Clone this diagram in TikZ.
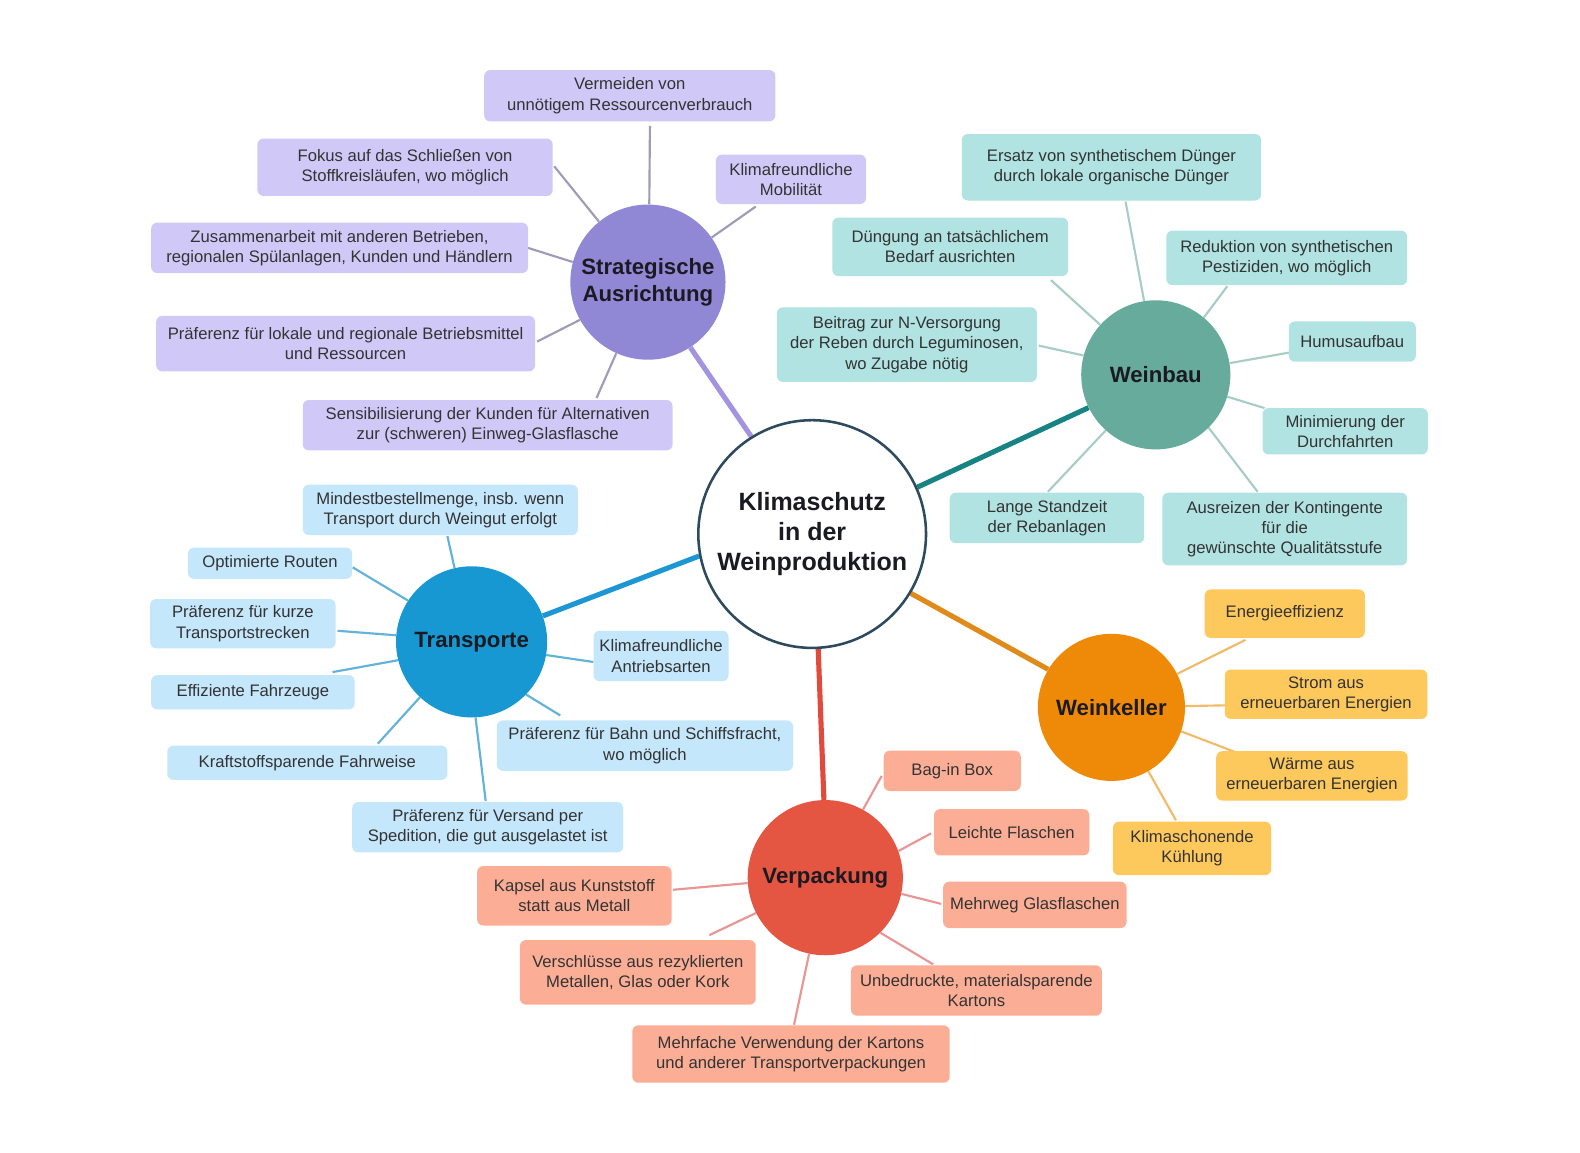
\documentclass[tikz,border=0pt]{standalone}
\usepackage{fontspec}
\setmainfont{Liberation Sans}
\usetikzlibrary{backgrounds}
\definecolor{txt}{HTML}{333333}
\definecolor{hubtxt}{HTML}{1A1A22}
\definecolor{ring}{HTML}{2D4A5E}
\definecolor{Phub}{HTML}{9188D5}\definecolor{Pleaf}{HTML}{D0C9F7}\definecolor{Pline}{HTML}{A09BB9}\definecolor{Pmain}{HTML}{A393E0}
\definecolor{Thub}{HTML}{66AB9B}\definecolor{Tleaf}{HTML}{B0E3E2}\definecolor{Tline}{HTML}{A8CCC6}\definecolor{Tmain}{HTML}{178383}
\definecolor{Bhub}{HTML}{1898D3}\definecolor{Bleaf}{HTML}{C5E7FB}\definecolor{Bline}{HTML}{62B3D9}\definecolor{Bmain}{HTML}{1D97D3}
\definecolor{Ohub}{HTML}{EF8A08}\definecolor{Oleaf}{HTML}{FDC85C}\definecolor{Oline}{HTML}{F2BB6A}\definecolor{Omain}{HTML}{E08A1A}
\definecolor{Rhub}{HTML}{E45641}\definecolor{Rleaf}{HTML}{FBAE95}\definecolor{Rline}{HTML}{E99593}\definecolor{Rmain}{HTML}{E04B3E}
\newcommand{\leaffont}{\fontsize{12.4}{15}\selectfont}
\newcommand{\hubfont}{\fontsize{16.5}{20.3}\selectfont\bfseries}
\newcommand{\corefont}{\fontsize{18.6}{22.5}\selectfont\bfseries}
\begin{document}
\begin{tikzpicture}[x=0.75pt,y=-0.75pt,
  leaf/.style={rounded corners=4.5pt, inner sep=0pt, align=center, font=\leaffont, text=txt},
  bx/.style 2 args={minimum width=#1*0.75pt, minimum height=#2*0.75pt},
  hub/.style={circle, inner sep=0pt, align=center, font=\hubfont, text=hubtxt},
  ln/.style={line width=1.6pt},
  mainln/.style={line width=3.8pt}]
\useasboundingbox (0,0) rectangle (1568,1144);

% center
\node[circle, draw=ring, line width=1.9pt, fill=white, minimum size=226*0.75pt, inner sep=0pt, align=center, font=\corefont, text=hubtxt] (C) at (806,530) {Klimaschutz\\in der\\Weinproduktion};

% hubs
\node[hub, fill=Phub, minimum size=154*0.75pt] (SA) at (643,280) {Strategische\\Ausrichtung};
\node[hub, fill=Thub, minimum size=148*0.75pt] (WB) at (1147,372) {Weinbau};
\node[hub, fill=Bhub, minimum size=150*0.75pt] (TR) at (468,637) {Transporte};
\node[hub, fill=Ohub, minimum size=146*0.75pt] (WK) at (1103,702) {Weinkeller};
\node[hub, fill=Rhub, minimum size=154*0.75pt] (VP) at (819,871) {Verpackung};

% purple leaves
\node[leaf, fill=Pleaf, bx={289}{51}] (P1) at (625,95) {Vermeiden von\\unnötigem Ressourcenverbrauch};
\node[leaf, fill=Pleaf, bx={293}{57}] (P2) at (402,166) {Fokus auf das Schließen von\\Stoffkreisläufen, wo möglich};
\node[leaf, fill=Pleaf, bx={149}{49}] (P3) at (785,178) {Klimafreundliche\\Mobilität};
\node[leaf, fill=Pleaf, bx={374}{50}] (P4) at (337,246) {Zusammenarbeit mit anderen Betrieben,\\regionalen Spülanlagen, Kunden und Händlern};
\node[leaf, fill=Pleaf, bx={376}{55}] (P5) at (343,341) {Präferenz für lokale und regionale Betriebsmittel\\und Ressourcen};
\node[leaf, fill=Pleaf, bx={367}{50}] (P6) at (484,422) {Sensibilisierung der Kunden für Alternativen\\zur (schweren) Einweg-Glasflasche};

% teal leaves
\node[leaf, fill=Tleaf, bx={297}{66}] (T1) at (1103,166) {Ersatz von synthetischem Dünger\\durch lokale organische Dünger};
\node[leaf, fill=Tleaf, bx={234}{58}] (T2) at (943,245) {Düngung an tatsächlichem\\Bedarf ausrichten};
\node[leaf, fill=Tleaf, bx={239}{54}] (T3) at (1277,256) {Reduktion von synthetischen\\Pestiziden, wo möglich};
\node[leaf, fill=Tleaf, bx={258}{74}] (T4) at (900,342) {Beitrag zur N-Versorgung\\der Reben durch Leguminosen,\\wo Zugabe nötig};
\node[leaf, fill=Tleaf, bx={126}{40}] (T5) at (1342,339) {Humusaufbau};
\node[leaf, fill=Tleaf, bx={164}{46}] (T6) at (1335,428) {Minimierung der\\Durchfahrten};
\node[leaf, fill=Tleaf, bx={193}{50}] (T7) at (1039,514) {Lange Standzeit\\der Rebanlagen};
\node[leaf, fill=Tleaf, bx={243}{72}] (T8) at (1275,525) {Ausreizen der Kontingente\\für die\\gewünschte Qualitätsstufe};

% blue leaves
\node[leaf, fill=Bleaf, bx={273}{50}] (B1) at (437,506) {Mindestbestellmenge, insb. wenn\\Transport durch Weingut erfolgt};
\node[leaf, fill=Bleaf, bx={163}{31}] (B2) at (268,559) {Optimierte Routen};
\node[leaf, fill=Bleaf, bx={184}{49}] (B3) at (241,619) {Präferenz für kurze\\Transportstrecken};
\node[leaf, fill=Bleaf, bx={202}{34}] (B4) at (251,687) {Effiziente Fahrzeuge};
\node[leaf, fill=Bleaf, bx={134}{50}] (B5) at (656,651) {Klimafreundliche\\Antriebsarten};
\node[leaf, fill=Bleaf, bx={278}{34}] (B6) at (305,757) {Kraftstoffsparende Fahrweise};
\node[leaf, fill=Bleaf, bx={294}{50}] (B7) at (640,740) {Präferenz für Bahn und Schiffsfracht,\\wo möglich};
\node[leaf, fill=Bleaf, bx={269}{50}] (B8) at (484,821) {Präferenz für Versand per\\Spedition, die gut ausgelastet ist};

% orange leaves
\node[leaf, fill=Oleaf, bx={159}{48}] (O1) at (1275,609) {Energieeffizienz};
\node[leaf, fill=Oleaf, bx={201}{49}] (O2) at (1316,689) {Strom aus\\erneuerbaren Energien};
\node[leaf, fill=Oleaf, bx={190}{49}] (O3) at (1302,770) {Wärme aus\\erneuerbaren Energien};
\node[leaf, fill=Oleaf, bx={157}{53}] (O4) at (1183,842) {Klimaschonende\\Kühlung};

% red leaves
\node[leaf, fill=Rleaf, bx={136}{40}] (R1) at (945,765) {Bag-in Box};
\node[leaf, fill=Rleaf, bx={154}{46}] (R2) at (1004,826) {Leichte Flaschen};
\node[leaf, fill=Rleaf, bx={193}{59}] (R3) at (570,889) {Kapsel aus Kunststoff\\statt aus Metall};
\node[leaf, fill=Rleaf, bx={182}{46}] (R4) at (1027,898) {Mehrweg Glasflaschen};
\node[leaf, fill=Rleaf, bx={234}{64}] (R5) at (633,965) {Verschlüsse aus rezyklierten\\Metallen, Glas oder Kork};
\node[leaf, fill=Rleaf, bx={249}{50}] (R6) at (969,983) {Unbedruckte, materialsparende\\Kartons};
\node[leaf, fill=Rleaf, bx={315}{57}] (R7) at (785,1046) {Mehrfache Verwendung der Kartons\\und anderer Transportverpackungen};

\begin{scope}[on background layer]
\fill[white] (0,0) rectangle (1568,1144);
% main connectors
\draw[mainln, Pmain] (C.122) -- (SA.303);
\draw[mainln, Tmain] (C.24) -- (WB.206);
\draw[mainln, Bmain] (C.191.7) -- (TR.20.6);
\draw[mainln, Omain] (C.-31) -- (WK.149.6);
\draw[mainln, Rmain] (C.-87.5) -- (VP.91.5);
% purple
\draw[ln, Pline] (SA.89) -- ([shift={(20,30)}]P1.center);
\draw[ln, Pline] (SA.129) -- ([shift={(148,-1)}]P2.center);
\draw[ln, Pline] (SA.35) -- ([shift={(-35,27)}]P3.center);
\draw[ln, Pline] (SA.165) -- ([shift={(187,0)}]P4.center);
\draw[ln, Pline] (SA.209) -- ([shift={(190,-2)}]P5.center);
\draw[ln, Pline] (SA.246) -- ([shift={(108,-27)}]P6.center);
% teal
\draw[ln, Tline] (WB.99.5) -- ([shift={(14,34)}]T1.center);
\draw[ln, Tline] (WB.138) -- ([shift={(100,33)}]T2.center);
\draw[ln, Tline] (WB.50.4) -- ([shift={(-59,28)}]T3.center);
\draw[ln, Tline] (WB.165) -- ([shift={(131,1)}]T4.center);
\draw[ln, Tline] (WB.9) -- ([shift={(-63,11)}]T5.center);
\draw[ln, Tline] (WB.-17.5) -- ([shift={(-80,-23)}]T6.center);
\draw[ln, Tline] (WB.228.6) -- ([shift={(1,-26)}]T7.center);
\draw[ln, Tline] (WB.-45) -- ([shift={(-27,-37)}]T8.center);
% blue
\draw[ln, Bline] (TR.103) -- ([shift={(7,26)}]B1.center);
\draw[ln, Bline] (TR.147) -- ([shift={(82,4)}]B2.center);
\draw[ln, Bline] (TR.175) -- ([shift={(94,7)}]B3.center);
\draw[ln, Bline] (TR.194.6) -- ([shift={(79,-20)}]B4.center);
\draw[ln, Bline] (TR.-10) -- ([shift={(-67,6)}]B5.center);
\draw[ln, Bline] (TR.227.6) -- ([shift={(70,-19)}]B6.center);
\draw[ln, Bline] (TR.-44.5) -- ([shift={(-84,-30)}]B7.center);
\draw[ln, Bline] (TR.-87) -- ([shift={(-2,-26)}]B8.center);
% orange
\draw[ln, Oline] (WK.27) -- ([shift={(-39,26)}]O1.center);
\draw[ln, Oline] (WK.1) -- ([shift={(-100,11)}]O2.center);
\draw[ln, Oline] (WK.-19.6) -- ([shift={(-77,-24)}]O3.center);
\draw[ln, Oline] (WK.-60) -- ([shift={(-16,-28)}]O4.center);
% red
\draw[ln, Rline] (VP.61) -- ([shift={(-70,5)}]R1.center);
\draw[ln, Rline] (VP.20.7) -- ([shift={(-80,1)}]R2.center);
\draw[ln, Rline] (VP.184.5) -- ([shift={(98,-6)}]R3.center);
\draw[ln, Rline] (VP.-12.6) -- ([shift={(-93,-1)}]R4.center);
\draw[ln, Rline] (VP.207) -- ([shift={(71,-37)}]R5.center);
\draw[ln, Rline] (VP.-45.5) -- ([shift={(-43,-26)}]R6.center);
\draw[ln, Rline] (VP.-102.5) -- ([shift={(3,-29)}]R7.center);
\end{scope}
\end{tikzpicture}
\end{document}
